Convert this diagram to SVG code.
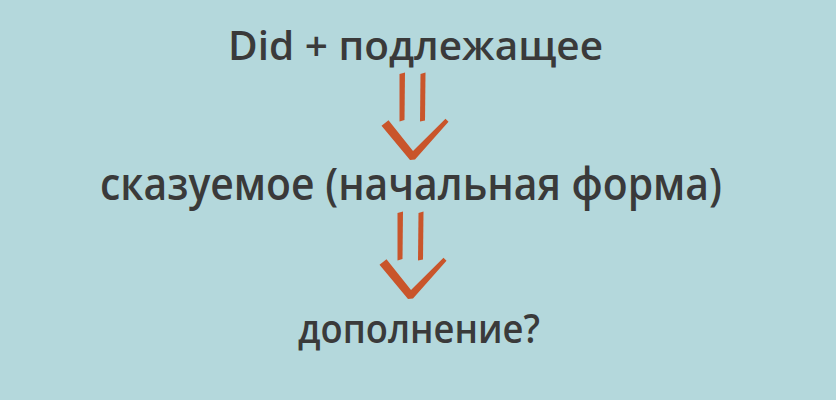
<svg xmlns="http://www.w3.org/2000/svg" width="836" height="400" viewBox="0 0 836 400">
  <style>
    .t { font-family: "Open Sans", "Noto Sans", "DejaVu Sans", sans-serif; fill: #3a3a3a; font-weight: 600; }
    .a { fill: #c9552b; }
  </style>
  <defs>
    <g id="arrow">
      <path class="a" d="M399.5,74 L405,72.5 L404.5,120 L399.5,121.5 Z"/>
      <path class="a" d="M420.5,74 L425.5,72.5 L425,120.5 L420,121.5 Z"/>
      <path class="a" d="M381.5,125.8 L388.5,120.2 L413,151 L445.5,118.8 L448.5,121.8 L415,159.5 L410,160 Z"/>
    </g>
  </defs>
  <rect width="836" height="400" fill="#b4d8dc"/>
  <g id="node-did">
    <text class="t" x="228" y="60" font-size="40" textLength="375" lengthAdjust="spacingAndGlyphs">Did + подлежащее</text>
  </g>
  <g id="node-skazuemoe">
    <text class="t" x="100" y="200" font-size="46" textLength="622" lengthAdjust="spacingAndGlyphs">сказуемое (начальная форма)</text>
  </g>
  <g id="node-dopolnenie">
    <text class="t" x="298" y="343" font-size="40" textLength="242" lengthAdjust="spacingAndGlyphs">дополнение?</text>
  </g>
  <g id="connectors">
    <use href="#arrow"/>
    <use href="#arrow" transform="translate(-2,139)"/>
  </g>
</svg>
